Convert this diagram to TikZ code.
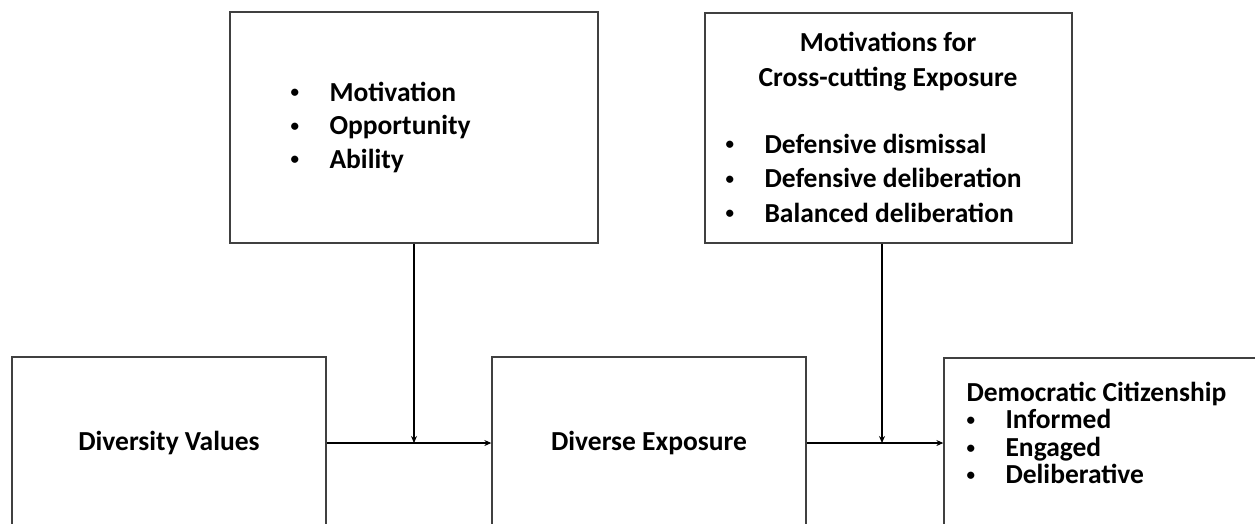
\documentclass[tikz,border=0pt]{standalone}
\usepackage{fontspec}
\setmainfont{Carlito}
\usetikzlibrary{arrows.meta}

\newcommand\itm[1]{\makebox[39pt][l]{\raisebox{3.2pt}{\fontsize{17}{17}\selectfont•}}#1}

\begin{document}
\begin{tikzpicture}[x=1pt,y=-1pt,>={Stealth[length=7pt,width=6pt]},line width=1.1pt]
\tikzstyle{every node}=[font=\fontsize{27.5}{33.5}\selectfont\bfseries,inner sep=0pt]
\tikzstyle{box}=[draw=black!75,line width=1.3pt]
\clip (0,0) rectangle (1255,523);
\fill[white] (0,0) rectangle (1255,523);
\node[box,minimum width=314pt,minimum height=172pt] (vals) at (169,443) {Diversity Values};
\node[box,minimum width=314pt,minimum height=172pt] (expo) at (649,443) {Diverse Exposure};
\node[box,minimum width=356pt,minimum height=182pt] (citizen) at (1122,449) {};
\node[box,minimum width=368pt,minimum height=231pt] (moa) at (414,127.5) {};
\node[box,minimum width=367pt,minimum height=230pt] (motiv) at (888.5,128) {};
\node[anchor=west,align=left] (moalist) at (290,127) {\itm{Motivation}\\\itm{Opportunity}\\\itm{Ability}};
\node[align=center,font=\fontsize{27.5}{35}\selectfont\bfseries] (motivhead) at (888,62) {Motivations for\\Cross-cutting Exposure};
\node[anchor=west,align=left,font=\fontsize{27.5}{34.5}\selectfont\bfseries] (motivlist) at (725,178) {\itm{Defensive dismissal}\\\itm{Defensive deliberation}\\\itm{Balanced deliberation}};
\node[anchor=west,align=left,font=\fontsize{27.5}{27.5}\selectfont\bfseries] (citlist) at (966,433) {Democratic Citizenship\\\itm{Informed}\\\itm{Engaged}\\\itm{Deliberative}};
\draw[->] (vals) -- (expo);
\draw[->] (expo.east) -- (expo.east -| citizen.west);
\draw[->] (moa.south) -- (moa.south |- vals.east);
\draw[->] ([xshift=-6.5pt]motiv.south) -- ([xshift=-6.5pt]motiv.south |- expo.east);
\end{tikzpicture}
\end{document}
